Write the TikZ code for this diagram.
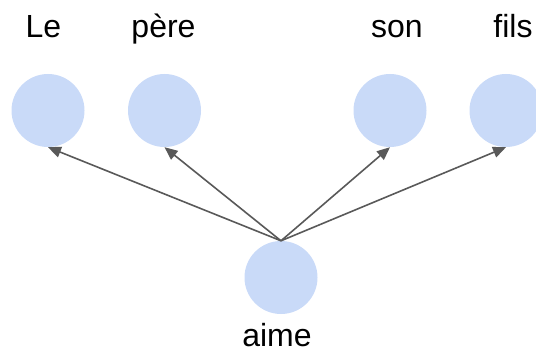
\documentclass[tikz,border=0pt]{standalone}
\usepackage{fontspec}
\setmainfont{Liberation Sans}
\usetikzlibrary{arrows.meta}
\definecolor{nodefill}{HTML}{C9DAF8}
\definecolor{edgecol}{HTML}{595959}
\tikzset{
  wordnode/.style={circle, fill=nodefill, draw=none, minimum size=73pt, inner sep=0pt},
  wordlabel/.style={anchor=base, font=\fontsize{32}{38}\selectfont, inner sep=0pt},
  deparrow/.style={draw=edgecol, line width=1.6pt, -{Triangle[length=13pt,width=11pt]}}
}
\begin{document}
\begin{tikzpicture}[x=1pt,y=-1pt]
\useasboundingbox (0,0) rectangle (536,353);
\node[wordnode] (le) at (48,110.5) {};
\node[wordnode] (pere) at (164.5,110.5) {};
\node[wordnode] (son) at (390,110.5) {};
\node[wordnode] (fils) at (506,110.5) {};
\node[wordnode] (aime) at (281,277.5) {};
\node[wordlabel] (tle) at (43.5,38) {Le};
\node[wordlabel] (tpere) at (163.5,38) {père};
\node[wordlabel] (tson) at (397,38) {son};
\node[wordlabel] (tfils) at (513,38) {fils};
\node[wordlabel] (taime) at (277,346.5) {aime};
\draw[deparrow] (aime.north) -- (le.south);
\draw[deparrow] (aime.north) -- (pere.south);
\draw[deparrow] (aime.north) -- (son.south);
\draw[deparrow] (aime.north) -- (fils.south);
\end{tikzpicture}
\end{document}
